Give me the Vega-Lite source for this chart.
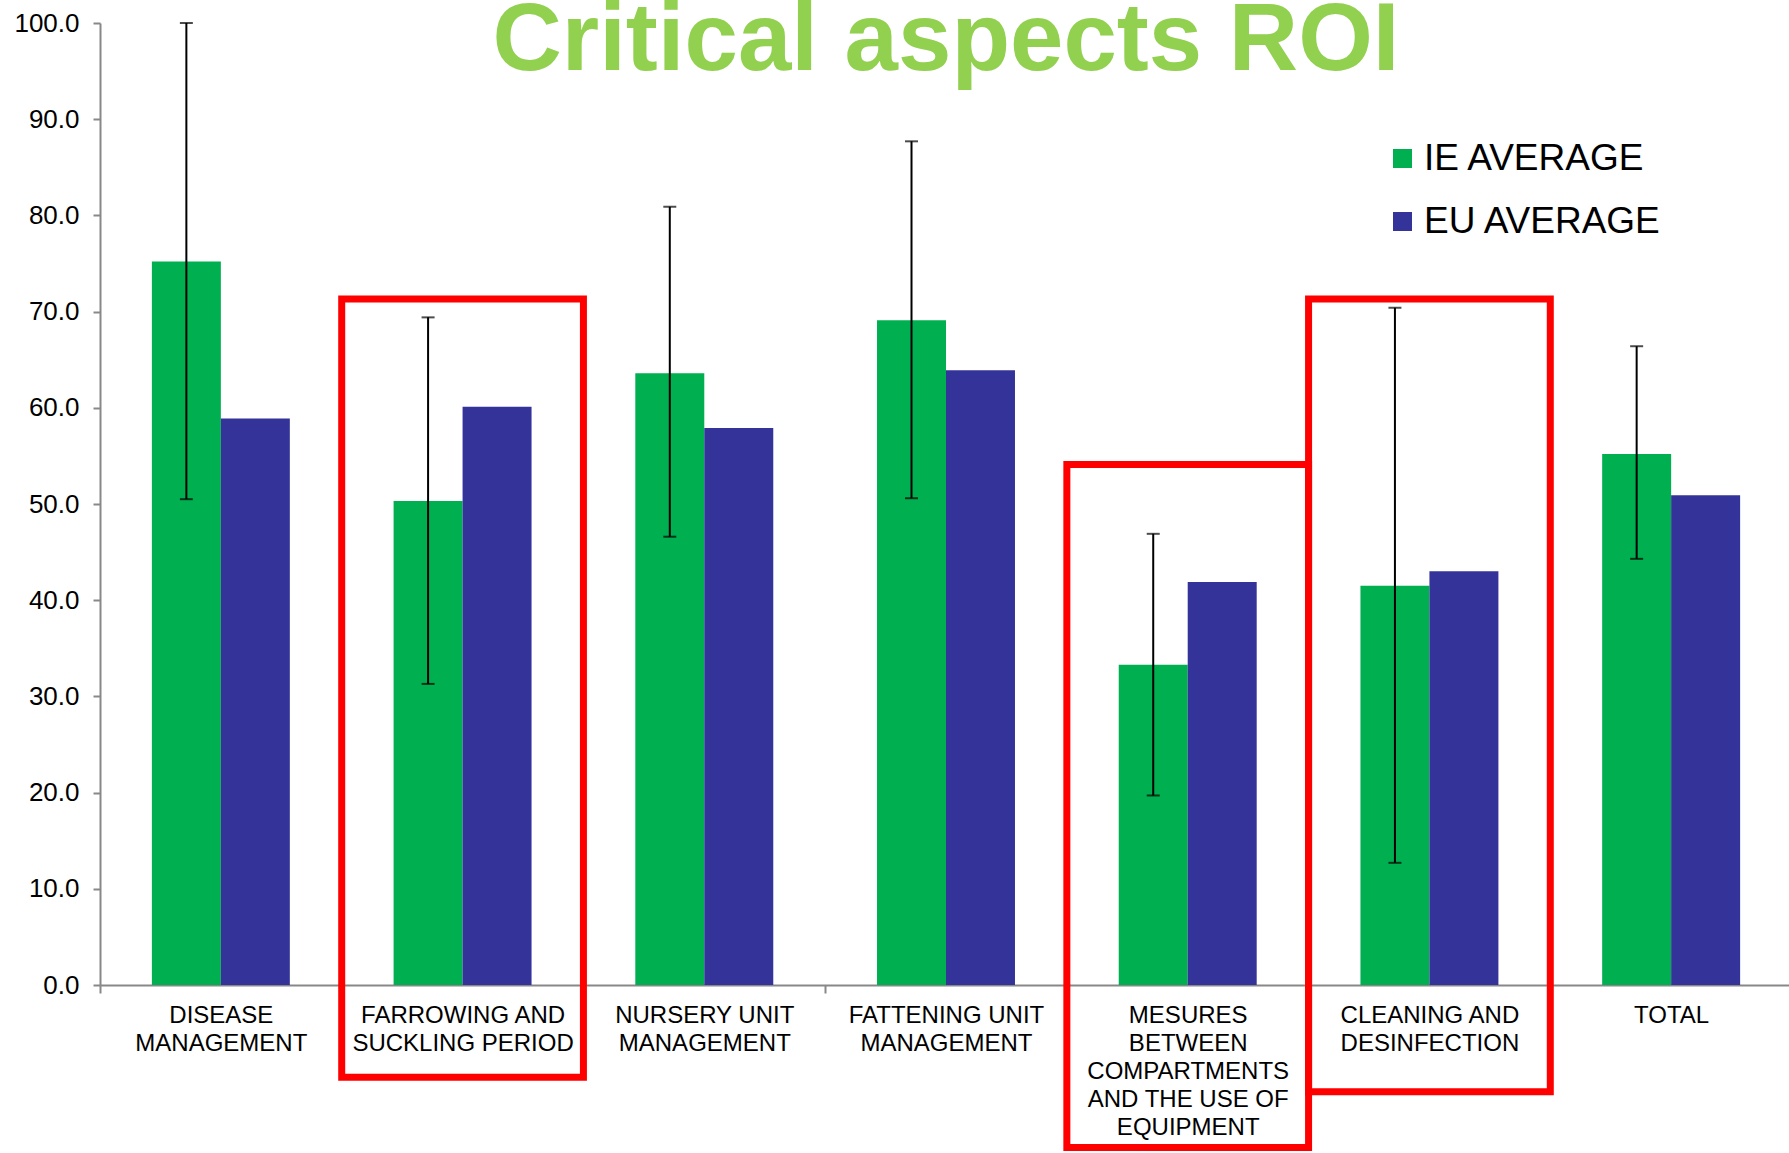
{
  "$schema": "https://vega.github.io/schema/vega-lite/v6.json",
  "width": 1692,
  "height": 962,
  "autosize": {"type": "none"},
  "padding": {"left": 100, "top": 23, "right": 0, "bottom": 168},
  "background": "white",
  "title": {"text": "Critical aspects ROI", "fontSize": 96, "font": "Liberation Sans", "fontWeight": "bold", "color": "#92D050", "anchor": "middle", "frame": "group", "baseline": "alphabetic", "offset": -156},
  "config": {"view": {"stroke": null}, "font": "Liberation Sans"},
  "datasets": {
    "bars": [
      {"category": "DISEASE|MANAGEMENT", "series": "IE AVERAGE", "value": 75.2, "lo": 50.5, "hi": 100.0},
      {"category": "DISEASE|MANAGEMENT", "series": "EU AVERAGE", "value": 58.9},
      {"category": "FARROWING AND|SUCKLING PERIOD", "series": "IE AVERAGE", "value": 50.3, "lo": 31.3, "hi": 69.4},
      {"category": "FARROWING AND|SUCKLING PERIOD", "series": "EU AVERAGE", "value": 60.1},
      {"category": "NURSERY UNIT|MANAGEMENT", "series": "IE AVERAGE", "value": 63.6, "lo": 46.6, "hi": 80.9},
      {"category": "NURSERY UNIT|MANAGEMENT", "series": "EU AVERAGE", "value": 57.9},
      {"category": "FATTENING UNIT|MANAGEMENT", "series": "IE AVERAGE", "value": 69.1, "lo": 50.6, "hi": 87.7},
      {"category": "FATTENING UNIT|MANAGEMENT", "series": "EU AVERAGE", "value": 63.9},
      {"category": "MESURES|BETWEEN|COMPARTMENTS|AND THE USE OF|EQUIPMENT", "series": "IE AVERAGE", "value": 33.3, "lo": 19.7, "hi": 46.9},
      {"category": "MESURES|BETWEEN|COMPARTMENTS|AND THE USE OF|EQUIPMENT", "series": "EU AVERAGE", "value": 41.9},
      {"category": "CLEANING AND|DESINFECTION", "series": "IE AVERAGE", "value": 41.5, "lo": 12.7, "hi": 70.4},
      {"category": "CLEANING AND|DESINFECTION", "series": "EU AVERAGE", "value": 43.0},
      {"category": "TOTAL", "series": "IE AVERAGE", "value": 55.2, "lo": 44.3, "hi": 66.4},
      {"category": "TOTAL", "series": "EU AVERAGE", "value": 50.9}
    ],
    "boxes": [
      {"category": "FARROWING AND|SUCKLING PERIOD", "top": 71.3, "bottom": -9.6},
      {"category": "MESURES|BETWEEN|COMPARTMENTS|AND THE USE OF|EQUIPMENT", "top": 54.1, "bottom": -16.9},
      {"category": "CLEANING AND|DESINFECTION", "top": 71.3, "bottom": -11.1}
    ]
  },
  "encoding": {
    "x": {
      "field": "category",
      "type": "nominal",
      "scale": {
        "domain": ["DISEASE|MANAGEMENT", "FARROWING AND|SUCKLING PERIOD", "NURSERY UNIT|MANAGEMENT", "FATTENING UNIT|MANAGEMENT", "MESURES|BETWEEN|COMPARTMENTS|AND THE USE OF|EQUIPMENT", "CLEANING AND|DESINFECTION", "TOTAL"],
        "paddingInner": 0,
        "paddingOuter": 0
      },
      "axis": {
        "title": null,
        "labelAngle": 0,
        "labelFontSize": 24,
        "labelColor": "black",
        "labelLineHeight": 28,
        "labelExpr": "split(datum.label, '|')",
        "labelLimit": 0,
        "labelOverlap": false,
        "labelPadding": 10,
        "domainColor": "#888888",
        "domainWidth": 2,
        "tickColor": "#888888",
        "tickWidth": 2,
        "tickSize": 8,
        "tickBand": "extent"
      }
    }
  },
  "layer": [
    {
      "data": {"name": "bars"},
      "mark": {"type": "bar"},
      "encoding": {
        "xOffset": {"field": "series", "type": "nominal", "scale": {"domain": ["IE AVERAGE", "EU AVERAGE"], "paddingInner": 0, "paddingOuter": 0.752}},
        "y": {
          "field": "value",
          "type": "quantitative",
          "scale": {"domain": [0, 100], "nice": false},
          "axis": {
            "title": null,
            "values": [0, 10, 20, 30, 40, 50, 60, 70, 80, 90, 100],
            "format": ".1f",
            "grid": false,
            "labelFontSize": 26,
            "labelColor": "black",
            "labelPadding": 14,
            "domainColor": "#888888",
            "domainWidth": 2,
            "tickColor": "#888888",
            "tickWidth": 2,
            "tickSize": 7
          }
        },
        "color": {
          "field": "series",
          "type": "nominal",
          "scale": {"domain": ["IE AVERAGE", "EU AVERAGE"], "range": ["#00B050", "#333399"]},
          "legend": {
            "title": null,
            "orient": "none",
            "legendX": 1284,
            "legendY": 117,
            "symbolType": "square",
            "symbolSize": 361,
            "symbolStrokeWidth": 0,
            "labelFontSize": 37,
            "labelColor": "black",
            "labelLimit": 500,
            "labelOffset": 3,
            "rowPadding": 25
          }
        }
      }
    },
    {
      "data": {"name": "bars"},
      "transform": [{"filter": "datum.series === 'IE AVERAGE'"}],
      "mark": {"type": "rule", "color": "black", "strokeWidth": 2},
      "encoding": {
        "xOffset": {"field": "series", "type": "nominal"},
        "y": {"field": "lo", "type": "quantitative"},
        "y2": {"field": "hi"}
      }
    },
    {
      "data": {"name": "bars"},
      "transform": [{"filter": "datum.series === 'IE AVERAGE'"}],
      "mark": {"type": "tick", "color": "black", "thickness": 2, "size": 13, "orient": "horizontal"},
      "encoding": {
        "xOffset": {"field": "series", "type": "nominal"},
        "y": {"field": "hi", "type": "quantitative"}
      }
    },
    {
      "data": {"name": "bars"},
      "transform": [{"filter": "datum.series === 'IE AVERAGE'"}],
      "mark": {"type": "tick", "color": "black", "thickness": 2, "size": 13, "orient": "horizontal"},
      "encoding": {
        "xOffset": {"field": "series", "type": "nominal"},
        "y": {"field": "lo", "type": "quantitative"}
      }
    },
    {
      "data": {"name": "boxes"},
      "mark": {"type": "rect", "filled": false, "stroke": "#FF0000", "strokeWidth": 7, "clip": false},
      "encoding": {
        "y": {"field": "top", "type": "quantitative"},
        "y2": {"field": "bottom"}
      }
    }
  ]
}
